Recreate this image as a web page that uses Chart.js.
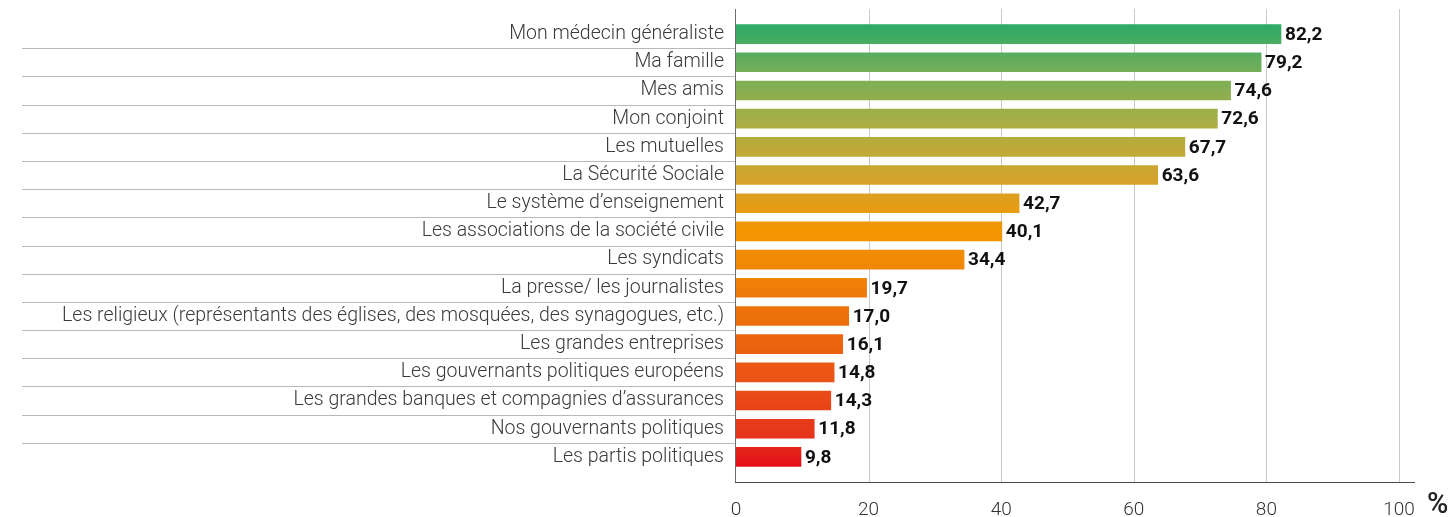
<!DOCTYPE html>
<html>
<head>
<meta charset="utf-8">
<script src="https://cdn.jsdelivr.net/npm/chart.js@4.4.1/dist/chart.umd.min.js"></script>
<style>
  html, body { margin: 0; padding: 0; background: #fff; }
  #wrap { width: 1452px; height: 517px; position: relative; }
</style>
</head>
<body>
<div id="wrap"><canvas id="trustChart"></canvas></div>
<script>
const categories = [
    'Mon médecin généraliste',
    'Ma famille',
    'Mes amis',
    'Mon conjoint',
    'Les mutuelles',
    'La Sécurité Sociale',
    'Le système d’enseignement',
    'Les associations de la société civile',
    'Les syndicats',
    'La presse/ les journalistes',
    'Les religieux (représentants des églises, des mosquées, des synagogues, etc.)',
    'Les grandes entreprises',
    'Les gouvernants politiques européens',
    'Les grandes banques et compagnies d’assurances',
    'Nos gouvernants politiques',
    'Les partis politiques'
];
const values = [82.2, 79.2, 74.6, 72.6, 67.7, 63.6, 42.7, 40.1, 34.4, 19.7, 17.0, 16.1, 14.8, 14.3, 11.8, 9.8];
const xTicks = [0, 20, 40, 60, 80, 100];

const FONT = "'Roboto', sans-serif";

// one top-to-bottom gradient shared by all bars (green -> orange -> red)
let barGradient = null;
function getGradient(chart) {
    const a = chart.chartArea;
    if (!a) return '#f29600';
    if (!barGradient) {
        const g = chart.ctx.createLinearGradient(0, a.top, 0, a.bottom);
        g.addColorStop(0.00, '#26aa67');
        g.addColorStop(0.12, '#78ae58');
        g.addColorStop(0.24, '#aeae42');
        g.addColorStop(0.36, '#d6a32a');
        g.addColorStop(0.47, '#f39600');
        g.addColorStop(0.62, '#ee7808');
        g.addColorStop(0.80, '#ea5216');
        g.addColorStop(0.92, '#e6341b');
        g.addColorStop(1.00, '#e30a18');
        barGradient = g;
    }
    return barGradient;
}

function line(ctx, x1, y1, x2, y2) {
    ctx.beginPath();
    ctx.moveTo(x1, y1);
    ctx.lineTo(x2, y2);
    ctx.stroke();
}

const framePlugin = {
    id: 'frame',
    beforeDatasetsDraw(chart) {
        const { ctx, chartArea: a, scales: { x, y } } = chart;
        ctx.save();
        ctx.lineWidth = 1;

        // vertical gridlines
        ctx.strokeStyle = '#c9c9c9';
        xTicks.forEach(t => {
            if (t === 0) return;
            const px = Math.round(x.getPixelForValue(t)) + 0.5;
            line(ctx, px, a.top - 11, px, a.bottom + 11);
        });

        // separators between the category rows, label side only
        ctx.strokeStyle = '#b8b8b8';
        for (let i = 1; i < categories.length; i++) {
            const py = Math.round((y.getPixelForValue(i - 1) + y.getPixelForValue(i)) / 2) + 0.5;
            line(ctx, 22, py, x.left, py);
        }

        // axes
        ctx.strokeStyle = '#6f6f6f';
        line(ctx, Math.round(x.left) - 0.5, a.top - 11, Math.round(x.left) - 0.5, a.bottom + 12);
        ctx.strokeStyle = '#4a4a4a';
        line(ctx, x.left - 1, a.bottom + 11.5, x.right + 16, a.bottom + 11.5);
        ctx.restore();
    },
    afterDatasetsDraw(chart) {
        const { ctx, chartArea: a, scales: { x } } = chart;
        const meta = chart.getDatasetMeta(0);
        ctx.save();
        ctx.fillStyle = '#111';
        ctx.font = `bold 19px ${FONT}`;
        ctx.textBaseline = 'middle';
        ctx.textAlign = 'left';
        meta.data.forEach((bar, i) => {
            ctx.fillText(values[i].toFixed(1).replace('.', ','), bar.x + 4, bar.y + 1);
        });

        // unit sign at the end of the value axis
        ctx.fillStyle = '#222';
        ctx.font = `500 29px ${FONT}`;
        ctx.fillText('%', x.right + 28, a.bottom + 35);
        ctx.restore();
    }
};

const ctx = document.getElementById('trustChart').getContext('2d');
new Chart(ctx, {
    type: 'bar',
    data: {
        labels: categories,
        datasets: [{
            data: values,
            backgroundColor: (c) => getGradient(c.chart),
            barThickness: 19,
            borderWidth: 0
        }]
    },
    options: {
        indexAxis: 'y',
        responsive: true,
        maintainAspectRatio: false,
        animation: false,
        layout: { padding: { top: 20, right: 53, left: 0, bottom: 0 } },
        plugins: {
            legend: { display: false },
            tooltip: { enabled: false }
        },
        scales: {
            x: {
                min: 0,
                max: 100,
                afterBuildTicks: (scale) => { scale.ticks = xTicks.map(v => ({ value: v })); },
                grid: { display: false },
                border: { display: false },
                ticks: {
                    padding: 20,
                    color: '#333',
                    font: { family: FONT, size: 19, weight: 300 }
                },
                afterFit: (scale) => { scale.height = 46; }
            },
            y: {
                grid: { display: false },
                border: { display: false },
                ticks: {
                    padding: 4,
                    color: '#3a3a3a',
                    font: { family: FONT, size: 19.5, weight: 300 }
                },
                afterFit: (scale) => { scale.width = 736; }
            }
        }
    },
    plugins: [framePlugin]
});
</script>
</body>
</html>
